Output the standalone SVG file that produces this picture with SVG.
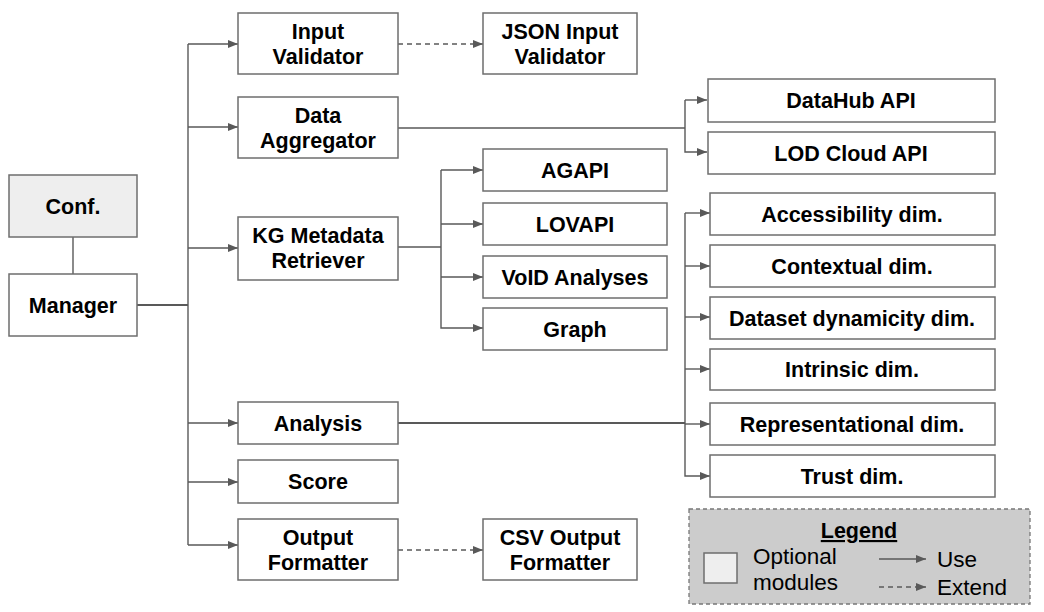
<svg xmlns="http://www.w3.org/2000/svg" width="1044" height="612" viewBox="0 0 1044 612">
<defs>
<marker id="ah" viewBox="0 0 10 10" refX="10" refY="5" markerWidth="10" markerHeight="10" markerUnits="userSpaceOnUse" orient="auto">
<path d="M0,1 L10,5 L0,9 Z" fill="#595959"/>
</marker>
</defs>
<style>
.box{fill:#ffffff;stroke:#6e6e6e;stroke-width:1.5}
.opt{fill:#eeeeee;stroke:#6e6e6e;stroke-width:1.5}
.t{font-family:"Liberation Sans",Arial,sans-serif;font-weight:bold;font-size:21.5px;fill:#000;text-anchor:middle}
.l{font-family:"Liberation Sans",Arial,sans-serif;font-size:22.5px;fill:#000}
.c{fill:none;stroke:#595959;stroke-width:1.4}
.a{marker-end:url(#ah)}
.d{stroke-dasharray:5,4}
</style>
<rect width="1044" height="612" fill="#ffffff"/>
<g id="connectors">
<line class="c" x1="73" y1="236" x2="73" y2="274"/>
<path class="c" d="M137,305 H188" style="stroke-width:2"/>
<line class="c" x1="188" y1="44" x2="188" y2="545"/>
<path class="c a" d="M188,44 H238"/>
<path class="c a" d="M188,127 H238"/>
<path class="c a" d="M188,248 H238"/>
<path class="c a" d="M188,423 H238"/>
<path class="c a" d="M188,482 H238"/>
<path class="c a" d="M188,545 H238"/>
<path class="c a d" d="M398,44 H483"/>
<path class="c a d" d="M398,550 H483"/>
<path class="c" d="M398,128 H685"/>
<path class="c a" d="M685,100 V152 H707"/>
<path class="c a" d="M685,100 H707"/>
<path class="c" d="M398,247 H441"/>
<path class="c a" d="M441,170 V328 H483"/>
<path class="c a" d="M441,170 H483"/>
<path class="c a" d="M441,224 H483"/>
<path class="c a" d="M441,277 H483"/>
<path class="c" d="M398,423 H685" style="stroke-width:2"/>
<path class="c a" d="M685,213 V476 H710"/>
<path class="c a" d="M685,213 H710"/>
<path class="c a" d="M685,266 H710"/>
<path class="c a" d="M685,317 H710"/>
<path class="c a" d="M685,369 H710"/>
<path class="c a" d="M685,424 H710"/>
</g>
<g id="conf"><rect class="opt" x="9" y="175" width="128" height="62"/><text class="t" x="73" y="214">Conf.</text></g>
<g id="manager"><rect class="box" x="9" y="274" width="128" height="62"/><text class="t" x="73" y="313">Manager</text></g>
<g id="input-validator"><rect class="box" x="238" y="13" width="160" height="61"/><text class="t" x="318" y="39">Input</text><text class="t" x="318" y="64">Validator</text></g>
<g id="data-aggregator"><rect class="box" x="238" y="97" width="160" height="61"/><text class="t" x="318" y="123">Data</text><text class="t" x="318" y="148">Aggregator</text></g>
<g id="kg-metadata-retriever"><rect class="box" x="238" y="217" width="160" height="63"/><text class="t" x="318" y="243">KG Metadata</text><text class="t" x="318" y="268">Retriever</text></g>
<g id="analysis"><rect class="box" x="238" y="402" width="160" height="42"/><text class="t" x="318" y="431">Analysis</text></g>
<g id="score"><rect class="box" x="238" y="460" width="160" height="43"/><text class="t" x="318" y="489">Score</text></g>
<g id="output-formatter"><rect class="box" x="238" y="519" width="160" height="61"/><text class="t" x="318" y="545">Output</text><text class="t" x="318" y="570">Formatter</text></g>
<g id="json-input-validator"><rect class="box" x="483" y="13" width="154" height="61"/><text class="t" x="560" y="39">JSON Input</text><text class="t" x="560" y="64">Validator</text></g>
<g id="csv-output-formatter"><rect class="box" x="483" y="519" width="154" height="61"/><text class="t" x="560" y="545">CSV Output</text><text class="t" x="560" y="570">Formatter</text></g>
<g id="agapi"><rect class="box" x="483" y="149" width="184" height="42"/><text class="t" x="575" y="178">AGAPI</text></g>
<g id="lovapi"><rect class="box" x="483" y="203" width="184" height="42"/><text class="t" x="575" y="232">LOVAPI</text></g>
<g id="void-analyses"><rect class="box" x="483" y="256" width="184" height="42"/><text class="t" x="575" y="285">VoID Analyses</text></g>
<g id="graph"><rect class="box" x="483" y="308" width="184" height="42"/><text class="t" x="575" y="337">Graph</text></g>
<g id="datahub-api"><rect class="box" x="708" y="79" width="287" height="43"/><text class="t" x="851" y="108">DataHub API</text></g>
<g id="lod-cloud-api"><rect class="box" x="708" y="132" width="287" height="42"/><text class="t" x="851" y="161">LOD Cloud API</text></g>
<g id="accessibility"><rect class="box" x="710" y="193" width="285" height="42"/><text class="t" x="852" y="222">Accessibility dim.</text></g>
<g id="contextual"><rect class="box" x="710" y="245" width="285" height="42"/><text class="t" x="852" y="274">Contextual dim.</text></g>
<g id="dataset-dynamicity"><rect class="box" x="710" y="297" width="285" height="42"/><text class="t" x="852" y="326">Dataset dynamicity dim.</text></g>
<g id="intrinsic"><rect class="box" x="710" y="349" width="285" height="41"/><text class="t" x="852" y="377">Intrinsic dim.</text></g>
<g id="representational"><rect class="box" x="710" y="403" width="285" height="42"/><text class="t" x="852" y="432">Representational dim.</text></g>
<g id="trust"><rect class="box" x="710" y="455" width="285" height="42"/><text class="t" x="852" y="484">Trust dim.</text></g>
<g id="legend">
<rect x="689" y="509" width="341" height="95" fill="#cccccc" stroke="#777777" stroke-width="1.3" stroke-dasharray="4,3"/>
<text class="t" x="859" y="538" text-decoration="underline">Legend</text>
<rect class="opt" x="704" y="553" width="33" height="30"/>
<text class="l" x="753" y="564">Optional</text>
<text class="l" x="753" y="590">modules</text>
<path class="c a" d="M879,559 H926"/>
<text class="l" x="937" y="567">Use</text>
<path class="c a d" d="M879,587 H926"/>
<text class="l" x="937" y="595">Extend</text>
</g>
</svg>
